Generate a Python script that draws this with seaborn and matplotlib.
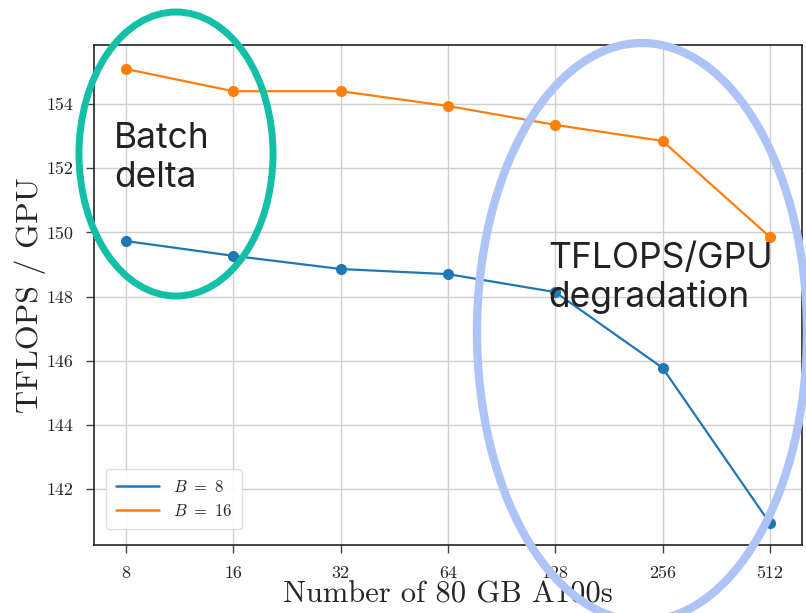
import matplotlib
matplotlib.use("Agg")
import matplotlib.pyplot as plt
import seaborn as sns
import pandas as pd
from matplotlib.patches import Ellipse
from matplotlib.lines import Line2D

gpus = [8, 16, 32, 64, 128, 256, 512]
tflops_b8 = [149.73, 149.27, 148.86, 148.70, 148.14, 145.78, 140.94]
tflops_b16 = [155.09, 154.40, 154.40, 153.94, 153.35, 152.85, 149.86]
series_labels = ["$B\\ =\\ 8$", "$B\\ =\\ 16$"]
y_ticks = [142, 144, 146, 148, 150, 152, 154]
colors = ["#1f77b4", "#ff7f0e"]

df = pd.DataFrame({
    "gpus": gpus * 2,
    "tflops": tflops_b8 + tflops_b16,
    "series": [series_labels[0]] * len(gpus) + [series_labels[1]] * len(gpus),
})

sns.set_style("whitegrid")
plt.rcParams["font.family"] = ["cmr10", "DejaVu Serif"]
plt.rcParams["mathtext.fontset"] = "cm"
plt.rcParams["axes.formatter.use_mathtext"] = True

fig = plt.figure(figsize=(8.06, 6.13), dpi=100)
ax = fig.add_axes([94 / 806, 1 - 545 / 613, (802 - 94) / 806, (545 - 45) / 613])

sns.lineplot(data=df, x="gpus", y="tflops", hue="series", marker="o",
             markersize=8, markeredgewidth=0, linewidth=1.6,
             palette=colors, ax=ax)

ax.set_xscale("log", base=2)
ax.set_xticks(gpus)
ax.set_xticklabels([str(g) for g in gpus])
ax.minorticks_off()
ax.set_xlim(2 ** 2.70, 2 ** 9.30)
ax.set_yticks(y_ticks)
ax.set_yticklabels([str(t) for t in y_ticks])
ax.set_ylim(140.26, 155.84)

ax.grid(True, color="#cfcfcf", linewidth=1.0)
for s in ax.spines.values():
    s.set_color("#222222")
    s.set_linewidth(1.2)
ax.tick_params(axis="both", which="major", direction="out", length=6, width=1,
               color="#444444", labelsize=13, left=True, bottom=True, pad=9)

ax.set_xlabel("Number of 80 GB A100s", fontsize=22, labelpad=0)
ax.set_ylabel("TFLOPS / GPU", fontsize=23, labelpad=0)

handles = [Line2D([], [], color=c, linewidth=1.8) for c in colors]
leg = ax.legend(handles, series_labels, loc="lower left", fontsize=12,
                frameon=True, borderpad=0.6, handlelength=2.6,
                bbox_to_anchor=(0.005, 0.015))
leg.get_frame().set_edgecolor("#dddddd")
leg.get_frame().set_facecolor("white")
leg.get_frame().set_alpha(0.9)

# Annotation overlays in figure pixel coordinates
W, H = 806, 613
def px(x, y):
    return (x / W, 1 - y / H)

e1 = Ellipse(px(176, 154), 194 / W, 284 / H, transform=fig.transFigure,
             fill=False, edgecolor="#14bfa8", linewidth=5, clip_on=False)
e2 = Ellipse(px(642, 332), 330 / W, 578 / H, transform=fig.transFigure,
             fill=False, edgecolor="#aec4f7", linewidth=6, clip_on=False)
fig.add_artist(e1)
fig.add_artist(e2)

fig.text(*px(114, 158), "Batch\ndelta", fontsize=25.5, family="Inter",
         color="#222222", va="center", ha="left", linespacing=1.2)
fig.text(*px(548, 278), "TFLOPS/GPU\ndegradation", fontsize=25.5,
         family="Inter", color="#222222", va="center", ha="left",
         linespacing=1.2)

fig.savefig("out.png", dpi=100)
